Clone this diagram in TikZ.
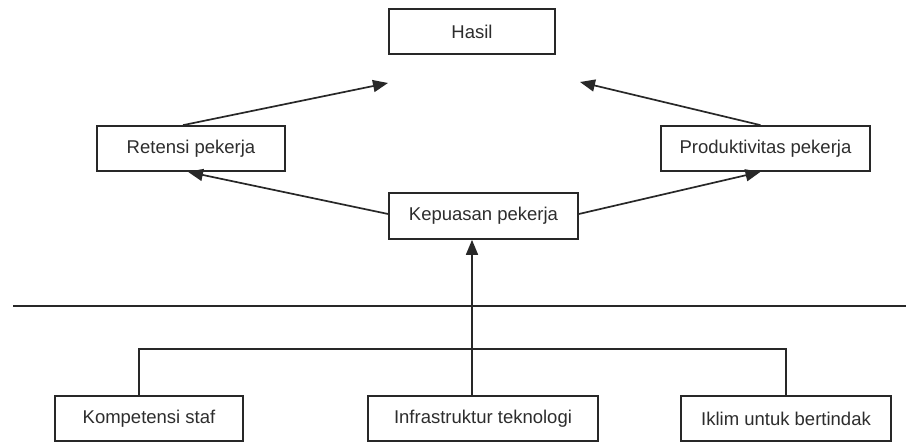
\documentclass[tikz,border=0pt]{standalone}
\usepackage{fontspec}
\setmainfont{Liberation Sans}
\usepackage{tikz}
\usetikzlibrary{arrows.meta, positioning, calc}
\definecolor{boxEdge}{RGB}{40,40,40}
\definecolor{boxText}{RGB}{45,45,45}

\begin{document}
\begin{tikzpicture}[
    x=1pt, y=-1pt,
    box/.style={rectangle, draw=boxEdge, line width=1.7pt, fill=white, minimum height=45pt, inner sep=0pt, align=center, text=boxText, font=\fontsize{18.5}{22}\selectfont},
    arrow/.style={-{Triangle[length=15pt, width=12pt]}, line width=1.7pt, boxEdge},
    line/.style={line width=1.7pt, boxEdge}
]
\useasboundingbox (0,0) rectangle (906,443);

% Top: outcome
\node[box, minimum width=166pt] (hasil) at (472,31.5) {Hasil};

% Middle row
\node[box, minimum width=188pt] (ret) at (191,148.5) {Retensi pekerja};
\node[box, minimum width=209pt] (prod) at (765.5,148.5) {Produktivitas pekerja};
\node[box, minimum width=189pt, minimum height=46pt] (kep) at (483.5,216) {Kepuasan pekerja};

% Bottom: enablers
\node[box, minimum width=188pt] (komp) at (149,418.5) {Kompetensi staf};
\node[box, minimum width=230pt] (infra) at (483,418.5) {Infrastruktur teknologi};
\node[box, minimum width=210pt] (iklim) at (786,418.5) {Iklim untuk bertindak};

% Free arrow ends below Hasil, divider ends
\coordinate (hasilL) at (388,83);
\coordinate (hasilR) at (580,82);
\coordinate (divL) at (13,306);
\coordinate (divR) at (906,306);

% Arrows
\draw[arrow] ([xshift=-8pt]ret.north) -- (hasilL);
\draw[arrow] ([xshift=-5pt]prod.north) -- (hasilR);
\draw[arrow] ([yshift=2pt]kep.west) -- ([xshift=-3pt]ret.south);
\draw[arrow] ([yshift=2pt]kep.east) -- ([xshift=-5pt]prod.south);

% Divider
\draw[line] (divL) -- (divR);

% Bracket over the three enablers, stem up to Kepuasan
\draw[line] ([xshift=-10pt]komp.north) -- ++(0,-46) -| (iklim.north);
\draw[arrow] (hasil |- infra.north) -- (hasil |- kep.south);

\end{tikzpicture}
\end{document}
